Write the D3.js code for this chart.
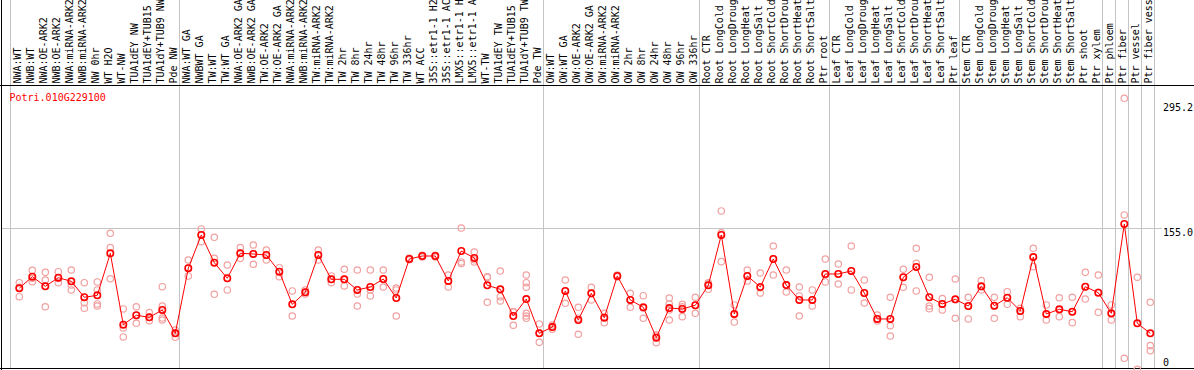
<!DOCTYPE html>
<html lang="en">
<head>
<meta charset="UTF-8">
<title>Potri.010G229100</title>
<script src="https://d3js.org/d3.v7.min.js"></script>
<style>
  body { margin: 0; background: #fff; }
  svg { display: block; font-family: "DejaVu Sans Mono", monospace; }
</style>
</head>
<body>
<div class="chart"></div>
<script>
// sample names, one per column
const labels = [
  "NWA:WT", "NWB:WT", "NWA:OE-ARK2", "NWB:OE-ARK2", "NWA:miRNA-ARK2", "NWB:miRNA-ARK2",
  "NW 0hr", "WT H2O", "WT-NW", "TUA1dEY NW", "TUA1dEY+TUB15 NW", "TUA1dY+TUB9 NW", "Pde NW",
  "NWA:WT GA", "NWBWT GA", "TW:WT", "TW:WT GA", "NWA:OE-ARK2 GA", "NWB:OE-ARK2 GA",
  "TW:OE-ARK2", "TW:OE-ARK2 GA", "NWA:miRNA-ARK2", "NWB:miRNA-ARK2", "TW:miRNA-ARK2",
  "TW:miRNA-ARK2", "TW 2hr", "TW 8hr", "TW 24hr", "TW 48hr", "TW 96hr", "TW 336hr", "WT ACC",
  "35S::etr1-1 H2O", "35S::etr1-1 ACC", "LMX5::etr1-1 H2O", "LMX5::etr1-1 ACC", "WT-TW",
  "TUA1dEY TW", "TUA1dEY+TUB15 TW", "TUA1dY+TUB9 TW", "Pde TW",
  "OW:WT", "OW:WT GA", "OW:OE-ARK2", "OW:OE-ARK2 GA", "OW:miRNA-ARK2", "OW:miRNA-ARK2",
  "OW 2hr", "OW 8hr", "OW 24hr", "OW 48hr", "OW 96hr", "OW 336hr",
  "Root CTR", "Root LongCold", "Root LongDrought", "Root LongHeat", "Root LongSalt",
  "Root ShortCold", "Root ShortDrought", "Root ShortHeat", "Root ShortSalt", "Ptr root",
  "Leaf CTR", "Leaf LongCold", "Leaf LongDrought", "Leaf LongHeat", "Leaf LongSalt",
  "Leaf ShortCold", "Leaf ShortDrought", "Leaf ShortHeat", "Leaf ShortSalt", "Ptr leaf",
  "Stem CTR", "Stem LongCold", "Stem LongDrought", "Stem LongHeat", "Stem LongSalt",
  "Stem ShortCold", "Stem ShortDrought", "Stem ShortHeat", "Stem ShortSalt", "Ptr shoot",
  "Ptr xylem", "Ptr phloem", "Ptr fiber", "Ptr vessel", "Ptr fiber vessel"
];

// mean expression per column
const means = [
  90.3, 102.8, 92.4, 101.7, 97.8, 80.6, 82.7, 128, 51, 61.2, 59, 66.9, 41.7,
  111.9, 147.8, 117.9, 101.1, 128, 127.3, 126.2, 108.2, 73, 86, 126.2, 100, 100, 88.5,
  91.7, 100.3, 79.8, 121.9, 125.1, 125.1, 98.2, 130.5, 123, 93.5, 89.2, 60.4, 78.7, 41.7,
  48.5, 87.4, 56.1, 84.9, 58.6, 103.6, 77.7, 69.8, 37, 69, 68, 72,
  93.5, 147.8, 62.6, 103.6, 91.7, 121.9, 93.8, 77.7, 77.7, 105.7,
  105.7, 109, 85.2, 57.2, 57.2, 102.2, 113.3, 80.6, 73.4, 78.4,
  71.2, 92.4, 71.5, 80.1, 65.8, 124, 62.6, 67.6, 65, 92,
  85.5, 63.3, 159.6, 52.5, 41.7
];

// individual replicates per column
const reps = [
  [96.3, 91.4, 81.2], [109.7, 97.4, 101], [107.5, 99.2, 70.4], [108.2, 96.3, 101],
  [110, 88.5, 93.8], [96.3, 74.8, 68.7], [97.1, 88.5, 73.4, 71.2], [149.6, 134.1, 100.6],
  [68, 37.8, 47.5], [70.4, 52.5, 61], [64, 55.3, 59], [92, 71.2, 58.2, 56.1], [45.3, 37.4, 42],
  [120.8, 103.6, 112], [154.3, 140.6, 148], [145.3, 122.6, 83.8], [115.4, 88.5, 101],
  [134.1, 122.6, 128], [137, 116.2, 127], [131.6, 120.8, 126], [112.5, 102.8, 108],
  [87.4, 60.4, 73], [88.5, 84.1, 86], [131.6, 120.8, 126], [103.6, 96.3, 100],
  [110.8, 92.8, 100], [110, 84.1, 71.2],
  [110, 82, 88.5], [110, 91.7, 100], [60.4, 88.5, 90.6], [121, 123, 122], [125, 126, 124],
  [125, 126, 124], [104.6, 91.7, 98], [155.3, 118.7, 117], [129.4, 118.7, 121],
  [102.8, 75.2, 102], [108.9, 81.2, 76.6], [65, 50.4, 65],
  [104.6, 96.3, 91.4, 63.3, 60.4, 57.9], [51.8, 32, 42],
  [46.1, 50.7, 48.5], [99.2, 74.1, 87.4], [69.8, 40.7, 58], [91.4, 77.7, 85],
  [63.3, 53.2, 59], [104.6, 102.5, 103.6], [84.9, 69.8, 77.7], [82.3, 57.9, 69],
  [39.9, 31.6, 39], [79.8, 73.4, 56.1, 67], [70.4, 59.7, 73], [80.6, 63.3, 72],
  [96.3, 89.2, 95], [173.7, 119, 150], [72.3, 53.9, 62], [110, 98.2, 103], [106.8, 85.2, 91],
  [135.9, 104.6, 122], [110, 86.3, 94], [91.7, 82, 60.4], [88.5, 71.2, 78], [121.9, 97.1, 105],
  [116.5, 94.9, 106], [135.9, 88.5, 109], [99.2, 74.4, 85], [61.5, 55, 57],
  [80.6, 49.9, 38.8], [110.8, 91.4, 102], [133.4, 117.3, 87.4], [102.2, 71.2, 68.3],
  [79.1, 66.9, 73], [100.3, 57.9, 78],
  [80.6, 57.2, 71], [98.5, 88.5, 92], [80.6, 57.9, 71], [86.6, 73, 80], [68.7, 59.7, 66],
  [133.4, 113.6, 124], [72.3, 56.1, 62], [80.1, 59.7, 67], [80.6, 53.2, 65], [107.5, 78.7, 92],
  [104.6, 64.4, 86], [72.3, 56.1, 63], [295.2, 169.4, 14.8], [102.2, 2.9], [75.2, 28.4, 23]
];

// column index after which a group separator is drawn
const groupEnds = [12, 40, 52, 62, 72, 83, 84, 85, 86, 87];
const yTicks = [0, 155.0, 295.2];
const title = "Potri.010G229100";

const width = 1194, height = 370;
const plotTop = 85.5, plotBottom = 368.5;

const svg = d3.select('.chart')
  .append('svg')
  .attr('width', width)
  .attr('height', height);

const xScale = d3.scaleBand()
  .domain(d3.range(labels.length))
  .range([11, 11 + 13 * labels.length]);
const px = i => xScale(i) + 8.3;

const yScale = d3.scaleLinear()
  .domain([0, 295.2])
  .range([372, 98.3]);

// horizontal grid line for the middle tick
svg.append('line')
  .attr('x1', 2).attr('x2', 1162)
  .attr('y1', Math.round(yScale(155)) + 0.5)
  .attr('y2', Math.round(yScale(155)) + 0.5)
  .attr('stroke', '#c4c4c4');

// group separators (and left edge)
const seps = [-1].concat(groupEnds);
svg.append('g')
  .selectAll('line')
  .data(seps)
  .join('line')
  .attr('x1', d => Math.round(xScale(d + 1) !== undefined ? xScale(d + 1) : xScale(d) + xScale.step()) - 0.5)
  .attr('x2', d => Math.round(xScale(d + 1) !== undefined ? xScale(d + 1) : xScale(d) + xScale.step()) - 0.5)
  .attr('y1', 0).attr('y2', plotBottom)
  .attr('stroke', '#c4c4c4');

// frame lines
svg.append('line').attr('x1', 1.5).attr('x2', 1.5).attr('y1', 0).attr('y2', height).attr('stroke', '#000');
svg.append('line').attr('x1', 0).attr('x2', width).attr('y1', plotTop).attr('y2', plotTop).attr('stroke', '#000');
svg.append('line').attr('x1', 0).attr('x2', width).attr('y1', plotBottom).attr('y2', plotBottom).attr('stroke', '#000');

// column labels, rotated
svg.append('g')
  .selectAll('text')
  .data(labels)
  .join('text')
  .attr('transform', (d, i) => `translate(${px(i) + 1.6},83.5) rotate(-90)`)
  .attr('font-size', 10)
  .attr('fill', '#000')
  .text(d => d);

// title
svg.append('text')
  .attr('x', 9.5).attr('y', 101)
  .attr('font-size', 10)
  .attr('fill', '#ff0000')
  .text(title);

// y tick labels on the right
svg.append('g')
  .selectAll('text')
  .data(yTicks)
  .join('text')
  .attr('x', 1163)
  .attr('y', d => Math.max(110.7, Math.min(366, yScale(d) + 8)))
  .attr('font-size', 10)
  .attr('fill', '#000')
  .text(d => d === 0 ? '0' : d.toFixed(1));

// replicate points
const repPts = [];
reps.forEach((r, i) => r.forEach(v => repPts.push({ i, v })));
svg.append('g')
  .selectAll('circle')
  .data(repPts)
  .join('circle')
  .attr('cx', d => px(d.i))
  .attr('cy', d => yScale(d.v))
  .attr('r', 3.2)
  .attr('fill', 'none')
  .attr('stroke', '#f2a0a0')
  .attr('stroke-width', 1.2);

// mean line
const line = d3.line()
  .x((d, i) => px(i))
  .y(d => yScale(d));
svg.append('path')
  .datum(means)
  .attr('d', line)
  .attr('fill', 'none')
  .attr('stroke', '#ff0000')
  .attr('stroke-width', 1);

svg.append('g')
  .selectAll('circle')
  .data(means)
  .join('circle')
  .attr('cx', (d, i) => px(i))
  .attr('cy', d => yScale(d))
  .attr('r', 3.2)
  .attr('fill', 'none')
  .attr('stroke', '#ff0000')
  .attr('stroke-width', 1.6);
</script>
</body>
</html>
